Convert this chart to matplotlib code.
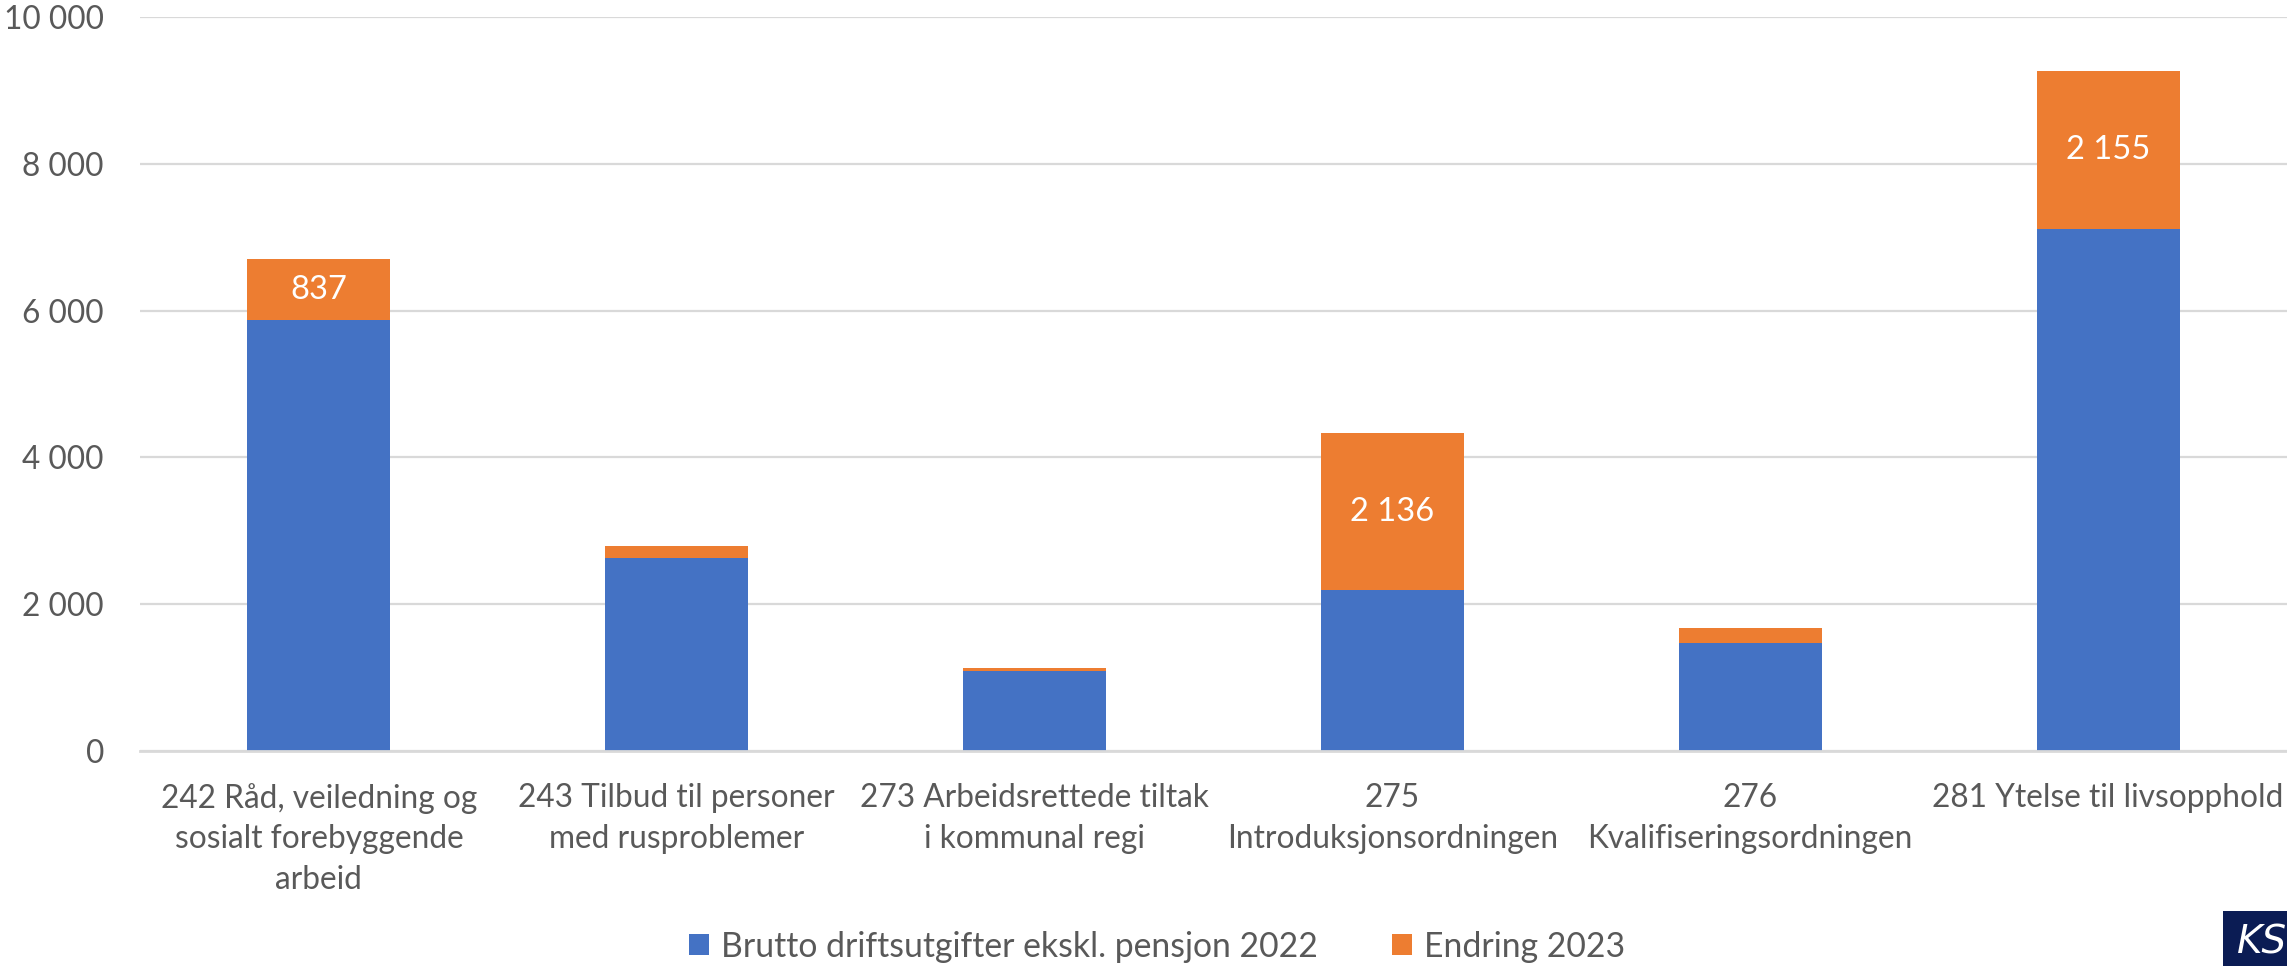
import matplotlib
matplotlib.use("Agg")
import matplotlib.pyplot as plt
from matplotlib.patches import Rectangle, Patch

categories = [
    "242 Råd, veiledning og\nsosialt forebyggende\narbeid",
    "243 Tilbud til personer\nmed rusproblemer",
    "273 Arbeidsrettede tiltak\ni kommunal regi",
    "275\nIntroduksjonsordningen",
    "276\nKvalifiseringsordningen",
    "281 Ytelse til livsopphold",
]
brutto_2022 = [5866, 2634, 1090, 2190, 1475, 7115]
endring_2023 = [837, 163, 36, 2136, 204, 2155]
shown_labels = [True, False, False, True, False, True]
series_names = ["Brutto driftsutgifter ekskl. pensjon 2022", "Endring 2023"]
yticks = [0, 2000, 4000, 6000, 8000, 10000]

BLUE = "#4472C4"
ORANGE = "#ED7D31"
TXT = "#595959"
GRID = "#D9D9D9"
FS = 22.8

plt.rcParams['font.family'] = ['Lato', 'DejaVu Sans']

fig = plt.figure(figsize=(22.87, 9.66), dpi=100)
ax = fig.add_axes([140/2287, 1-751/966, 1-140/2287, (751-17)/966])

x = list(range(len(categories)))
b1 = ax.bar(x, brutto_2022, width=0.4, color=BLUE, zorder=3)
b2 = ax.bar(x, endring_2023, width=0.4, bottom=brutto_2022, color=ORANGE, zorder=3)

labels = [f"{v:,}".replace(",", " ") if s else "" for v, s in zip(endring_2023, shown_labels)]
ax.bar_label(b2, labels=labels, label_type="center", color="white", fontsize=23.5, zorder=4)

ax.set_xlim(-0.5, len(categories) - 0.5)
ax.set_ylim(0, 10000)
ax.set_yticks(yticks)
ax.set_yticklabels([f"{v:,}".replace(",", " ") for v in yticks])
ax.set_xticks(x)
ax.set_xticklabels(categories, linespacing=1.44)
ax.tick_params(axis="y", length=0, pad=26, labelsize=FS, labelcolor=TXT)
ax.tick_params(axis="x", length=0, pad=23, labelsize=FS, labelcolor=TXT)
ax.grid(axis="y", color=GRID, linewidth=1.6, zorder=0)
for s in ["top", "right", "left"]:
    ax.spines[s].set_visible(False)
ax.spines["bottom"].set_color(GRID)
ax.spines["bottom"].set_linewidth(2)
ax.spines["bottom"].set_zorder(5)

handles = [Patch(facecolor=BLUE), Patch(facecolor=ORANGE)]
fig.legend(handles, series_names, loc="lower center", bbox_to_anchor=(1157/2287, 0.0),
           ncol=2, frameon=False, fontsize=24.3, labelcolor=TXT,
           handlelength=0.6, handleheight=0.6, handletextpad=0.35,
           columnspacing=2.2, borderpad=0.0, borderaxespad=0.1)

# KS logo
fig.patches.append(Rectangle((2223/2287, 0), 64/2287, 55/966, transform=fig.transFigure,
                             facecolor="#0B1C54", edgecolor="none"))
fig.text(2262/2287, 12/966, "KS", color="white", fontsize=28, style="italic",
         ha="center", va="baseline", family=["DejaVu Sans"])

fig.savefig("out.png", dpi=100)
